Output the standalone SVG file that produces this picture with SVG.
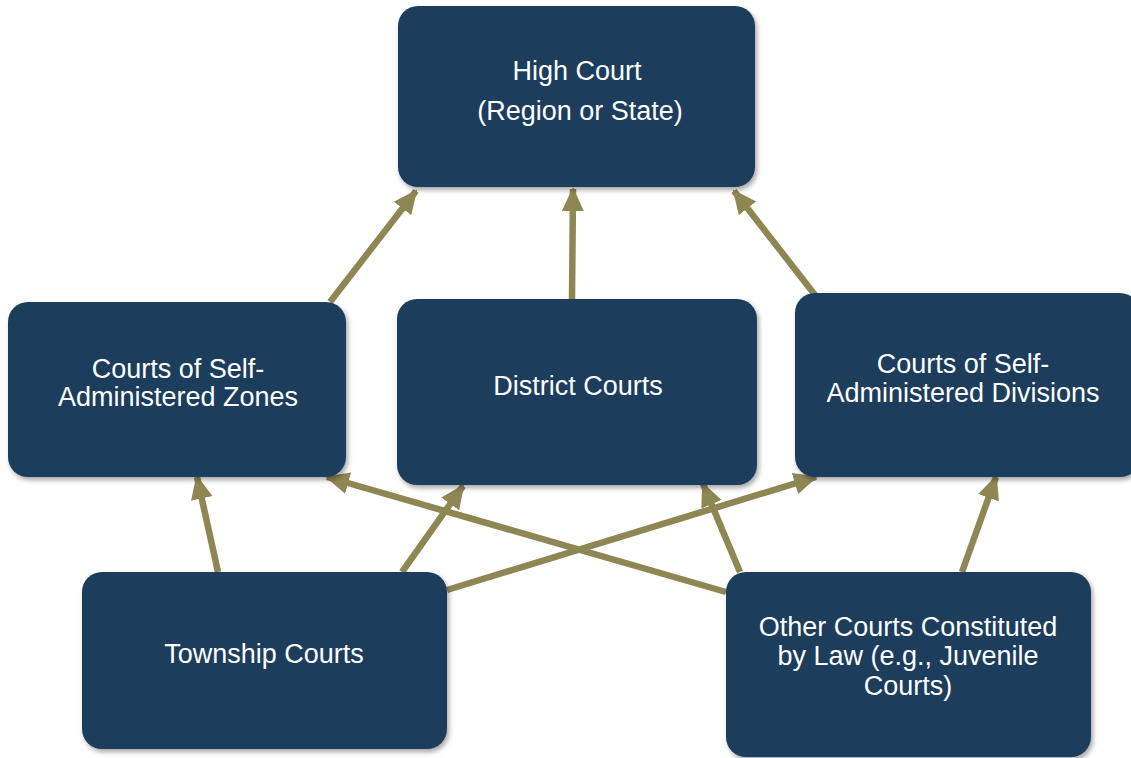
<svg xmlns="http://www.w3.org/2000/svg" width="1131" height="758" viewBox="0 0 1131 758">
<style>
.box{fill:#1d3d5c;filter:url(#sh)}
.t{font-family:"Liberation Sans",Arial,sans-serif;font-size:27px;fill:#ffffff;text-anchor:middle}
.c{stroke:#8f8753;stroke-width:6.5;fill:none;marker-end:url(#ah)}
</style>
<defs>
<filter id="sh" x="-10%" y="-10%" width="125%" height="130%">
<feDropShadow dx="2" dy="3" stdDeviation="2.5" flood-color="#000" flood-opacity="0.35"/>
</filter>
<marker id="ah" markerUnits="userSpaceOnUse" markerWidth="24" markerHeight="24" viewBox="0 0 24 24" refX="22" refY="12" orient="auto">
<path d="M0,1 L24,12 L0,23 Z" fill="#8f8753"/>
</marker>
</defs>
<g id="connectors">
<line class="c" x1="330" y1="302" x2="416" y2="191"/>
<line class="c" x1="572" y1="299" x2="573" y2="189"/>
<line class="c" x1="815" y1="295" x2="734" y2="191"/>
<line class="c" x1="218" y1="572" x2="197" y2="477"/>
<line class="c" x1="402" y1="572" x2="463" y2="486"/>
<line class="c" x1="447" y1="590" x2="816" y2="477"/>
<line class="c" x1="726" y1="592" x2="327" y2="477"/>
<line class="c" x1="740" y1="572" x2="703" y2="484"/>
<line class="c" x1="962" y1="572" x2="996" y2="477"/>
</g>
<g id="high-court">
<rect class="box" x="398" y="6" width="357" height="181" rx="20"/>
<text class="t" x="577" y="80">High Court</text>
<text class="t" x="580" y="120">(Region or State)</text>
</g>
<g id="zones">
<rect class="box" x="8" y="302" width="338" height="175" rx="20"/>
<text class="t" x="178" y="378">Courts of Self-</text>
<text class="t" x="178" y="406">Administered Zones</text>
</g>
<g id="district">
<rect class="box" x="397" y="299" width="360" height="186" rx="20"/>
<text class="t" x="578" y="395">District Courts</text>
</g>
<g id="divisions">
<rect class="box" x="795" y="293" width="345" height="184" rx="20"/>
<text class="t" x="963" y="373">Courts of Self-</text>
<text class="t" x="963" y="402">Administered Divisions</text>
</g>
<g id="township">
<rect class="box" x="82" y="572" width="365" height="177" rx="20"/>
<text class="t" x="264" y="663">Township Courts</text>
</g>
<g id="other">
<rect class="box" x="726" y="572" width="365" height="185" rx="20"/>
<text class="t" x="908" y="636">Other Courts Constituted</text>
<text class="t" x="908" y="665">by Law (e.g., Juvenile</text>
<text class="t" x="908" y="695">Courts)</text>
</g>
</svg>
